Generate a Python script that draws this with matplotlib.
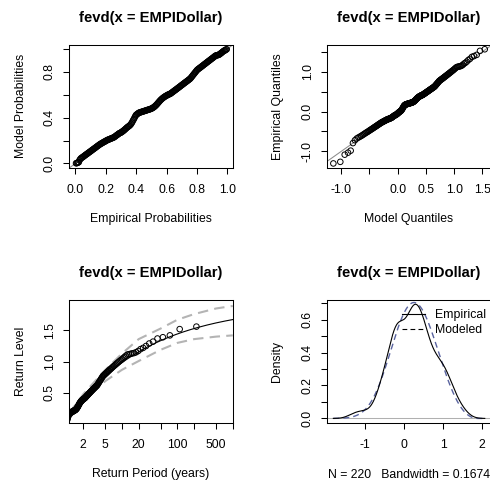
import numpy as np
import matplotlib
matplotlib.use("Agg")
import matplotlib.pyplot as plt
from matplotlib.lines import Line2D
from matplotlib.ticker import NullLocator

plt.rcParams['font.family'] = ['Liberation Sans', 'DejaVu Sans']
plt.rcParams['axes.unicode_minus'] = False

empi_dollar = [
    -1.300, -1.260, -1.080, -1.030, -0.980, -0.790,
    -0.719, -0.676, -0.652, -0.632, -0.612, -0.592, -0.572, -0.553, -0.535, -0.520,
    -0.505, -0.490, -0.474, -0.460,
    -0.447, -0.434, -0.421, -0.408, -0.395, -0.384, -0.372, -0.361, -0.350, -0.339,
    -0.327, -0.317, -0.307, -0.297, -0.287,
    -0.277, -0.270, -0.263, -0.255, -0.248, -0.241, -0.233, -0.226, -0.223, -0.212,
    -0.206, -0.201, -0.196, -0.192, -0.187,
    -0.182, -0.177, -0.173, -0.168, -0.163, -0.159, -0.151, -0.143, -0.134, -0.126,
    -0.119, -0.111, -0.103, -0.095, -0.091, -0.087,
    -0.081, -0.073, -0.066, -0.058, -0.050, -0.041, -0.032, -0.023, -0.014, -0.007,
    0.000, 0.007, 0.014, 0.024, 0.035,
    0.050, 0.066, 0.083, 0.099, 0.116, 0.133, 0.149,
    0.156, 0.163, 0.170, 0.176, 0.180, 0.183, 0.186, 0.188, 0.191, 0.194,
    0.197, 0.200, 0.202, 0.205, 0.208, 0.211, 0.214, 0.216, 0.219, 0.222,
    0.225, 0.228, 0.232, 0.237, 0.242, 0.248, 0.255, 0.262, 0.271, 0.279,
    0.289, 0.299, 0.309, 0.319, 0.329, 0.338, 0.346, 0.354, 0.361, 0.368,
    0.374, 0.380, 0.386, 0.391, 0.395,
    0.401, 0.405, 0.409, 0.413, 0.416, 0.423, 0.430, 0.436, 0.443, 0.450,
    0.457, 0.463, 0.470, 0.477, 0.484, 0.491, 0.498, 0.505, 0.512, 0.520,
    0.527, 0.534, 0.541, 0.549, 0.556, 0.564, 0.571, 0.578, 0.586, 0.593,
    0.601, 0.609, 0.617, 0.625,
    0.638, 0.651, 0.665, 0.679, 0.693, 0.707, 0.721, 0.736, 0.751, 0.767,
    0.776, 0.786, 0.796, 0.806, 0.815, 0.826, 0.836, 0.847, 0.858, 0.870,
    0.881, 0.892, 0.904, 0.917, 0.929, 0.942, 0.954, 0.968, 0.982, 0.996,
    1.011, 1.026, 1.040, 1.058, 1.076, 1.095, 1.113, 1.119, 1.125, 1.132,
    1.138, 1.150,
    1.170, 1.200, 1.220, 1.250, 1.290, 1.320, 1.370, 1.390, 1.420, 1.520, 1.560,
]

# fitted GEV parameters
gev_loc = 0.07
gev_scale = 0.55
gev_shape = -0.30
bandwidth = 0.1674
title = "fevd(x = EMPIDollar)"

# 95% band of the return level plot (gray dashed)
ci_periods = [1.12, 2, 5, 10, 20, 50, 100, 200, 500, 1000]
ci_upper = [0.18, 0.48, 0.87, 1.13, 1.36, 1.53, 1.67, 1.76, 1.85, 1.89]
ci_lower = [0.09, 0.36, 0.69, 0.87, 1.01, 1.19, 1.30, 1.36, 1.40, 1.42]

# ticks (R leaves out labels that would overlap)
p_ticks = [0.0, 0.2, 0.4, 0.6, 0.8, 1.0]
p_xlabels = ["0.0", "0.2", "0.4", "0.6", "0.8", "1.0"]
p_ylabels = ["0.0", "", "0.4", "", "0.8", ""]
q_ticks = [-1.0, -0.5, 0.0, 0.5, 1.0, 1.5]
q_xlabels = ["-1.0", "", "0.0", "0.5", "1.0", "1.5"]
q_ylabels = ["-1.0", "", "0.0", "", "1.0", ""]
rp_ticks = [2, 5, 10, 20, 50, 100, 200, 500, 1000]
rp_labels = ["2", "5", "", "20", "", "100", "", "500", ""]
rl_ticks = [0.5, 1.0, 1.5]
rl_labels = ["0.5", "1.0", "1.5"]
d_xticks = [-1, 0, 1, 2]
d_xlabels = ["-1", "0", "1", "2"]
d_yticks = [0.0, 0.1, 0.2, 0.3, 0.4, 0.5, 0.6, 0.7]
d_ylabels = ["0.0", "", "0.2", "", "0.4", "", "0.6", ""]


def gev_q(p):
    return gev_loc + gev_scale / gev_shape * ((-np.log(p)) ** (-gev_shape) - 1)


def gev_cdf(z):
    s = np.clip(1 + gev_shape * (z - gev_loc) / gev_scale, 1e-12, None)
    return np.exp(-s ** (-1 / gev_shape))


def gev_pdf(z):
    s = 1 + gev_shape * (z - gev_loc) / gev_scale
    out = np.zeros_like(z)
    ok = s > 0
    t = s[ok] ** (-1 / gev_shape)
    out[ok] = t ** (gev_shape + 1) * np.exp(-t) / gev_scale
    return out


x = np.sort(np.array(empi_dollar))
n = len(x)
pp = np.arange(1, n + 1) / (n + 1)

W, H = 490, 484
fig = plt.figure(figsize=(W / 100, H / 100), dpi=100)
FS = 8.8
TFS = 10.6
PW, PH = 163.5, 123.3
cols = [69.3, 327.3]
rows = [44.7, 299.7]


def panel(c, r):
    ax = fig.add_axes([cols[c] / W, 1 - (rows[r] + PH) / H, PW / W, PH / H])
    for s in ax.spines.values():
        s.set_linewidth(0.75)
        s.set_color("black")
    ax.tick_params(length=4.3, width=0.75, labelsize=FS, color="black")
    ax.tick_params(axis="x", pad=7)
    ax.tick_params(axis="y", pad=5.5)
    cx = (cols[c] + PW / 2) / W
    fig.text(cx, 1 - (22 + 255.5 * r) / H, title, ha="center", va="baseline",
             fontsize=TFS, fontweight="bold")
    return ax


def labels(ax, c, r, xl, yl):
    cx = (cols[c] + PW / 2) / W
    fig.text(cx, 1 - (222 + 255.5 * r) / H, xl, ha="center", va="baseline", fontsize=FS)
    fig.text((23.5 + 257 * c) / W, 1 - (rows[r] + PH / 2) / H, yl, rotation=90,
             rotation_mode="anchor", ha="center", va="baseline", fontsize=FS)


pt = dict(s=16, facecolors="none", edgecolors="black", linewidths=0.7, zorder=3)

# 1: probability plot
ax1 = panel(0, 0)
ax1.margins(0.04)
ax1.axline((0, 0), slope=1, color="#8c8c8c", lw=0.75, zorder=2)
ax1.scatter(pp, gev_cdf(x), **pt)
ax1.set_xticks(p_ticks, p_xlabels)
ax1.set_yticks(p_ticks, p_ylabels, rotation=90, va="center")
labels(ax1, 0, 0, "Empirical Probabilities", "Model Probabilities")

# 2: qq plot
ax2 = panel(1, 0)
ax2.margins(0.04)
ax2.axline((0, 0), slope=1, color="#8c8c8c", lw=0.75, zorder=2)
ax2.scatter(gev_q(pp), x, **pt)
ax2.set_xticks(q_ticks, q_xlabels)
ax2.set_yticks(q_ticks, q_ylabels, rotation=90, va="center")
labels(ax2, 1, 0, "Model Quantiles", "Empirical Quantiles")

# 3: return level plot
ax3 = panel(0, 1)
ax3.set_xscale("log")
periods = np.logspace(np.log10(1.12), 3, 300)
ax3.plot(periods, gev_q(np.exp(-1 / periods)), color="black", lw=0.8, zorder=2)
ax3.plot(ci_periods, ci_upper, color="#b4b4b4", lw=1.5, dashes=(5, 3), zorder=1)
ax3.plot(ci_periods, ci_lower, color="#b4b4b4", lw=1.5, dashes=(5, 3), zorder=1)
ax3.scatter(-1 / np.log(pp), x, **pt)
ax3.set_xlim(1.12, 1000)
ax3.set_ylim(0.02, 1.99)
ax3.set_xticks(rp_ticks, rp_labels)
ax3.xaxis.set_minor_locator(NullLocator())
ax3.set_yticks(rl_ticks, rl_labels, rotation=90, va="center")
labels(ax3, 0, 1, "Return Period (years)", "Return Level")

# 4: density plot
ax4 = panel(1, 1)
grid = np.linspace(x.min() - 3 * bandwidth, x.max() + 3 * bandwidth, 512)
dens = np.exp(-0.5 * ((grid[:, None] - x[None, :]) / bandwidth) ** 2).sum(1)
dens /= n * bandwidth * np.sqrt(2 * np.pi)
ax4.axhline(0, color="#b0b0b0", lw=0.75, zorder=1)
ax4.plot(grid, gev_pdf(grid), color="#5a64a0", lw=1.0, dashes=(4.3, 2.9), zorder=2)
ax4.plot(grid, dens, color="black", lw=0.8, zorder=3)
xr = grid.max() - grid.min()
ax4.set_xlim(grid.min() - 0.04 * xr, grid.max() + 0.04 * xr)
ax4.set_ylim(-0.04 * dens.max(), 1.04 * dens.max())
ax4.set_xticks(d_xticks, d_xlabels)
ax4.set_yticks(d_yticks, d_ylabels, rotation=90, va="center")
handles = [Line2D([], [], color="black", lw=0.8),
           Line2D([], [], color="black", lw=0.8, dashes=(4.3, 2.9))]
ax4.legend(handles, ["Empirical", "Modeled"], loc="upper left",
           bbox_to_anchor=(0.455, 0.925), frameon=False, fontsize=FS,
           handlelength=1.9, handletextpad=0.8, labelspacing=0.25,
           borderpad=0, borderaxespad=0)
labels(ax4, 1, 1, "N = %d   Bandwidth = %.4f" % (n, bandwidth), "Density")

fig.savefig("out.png", dpi=100)
